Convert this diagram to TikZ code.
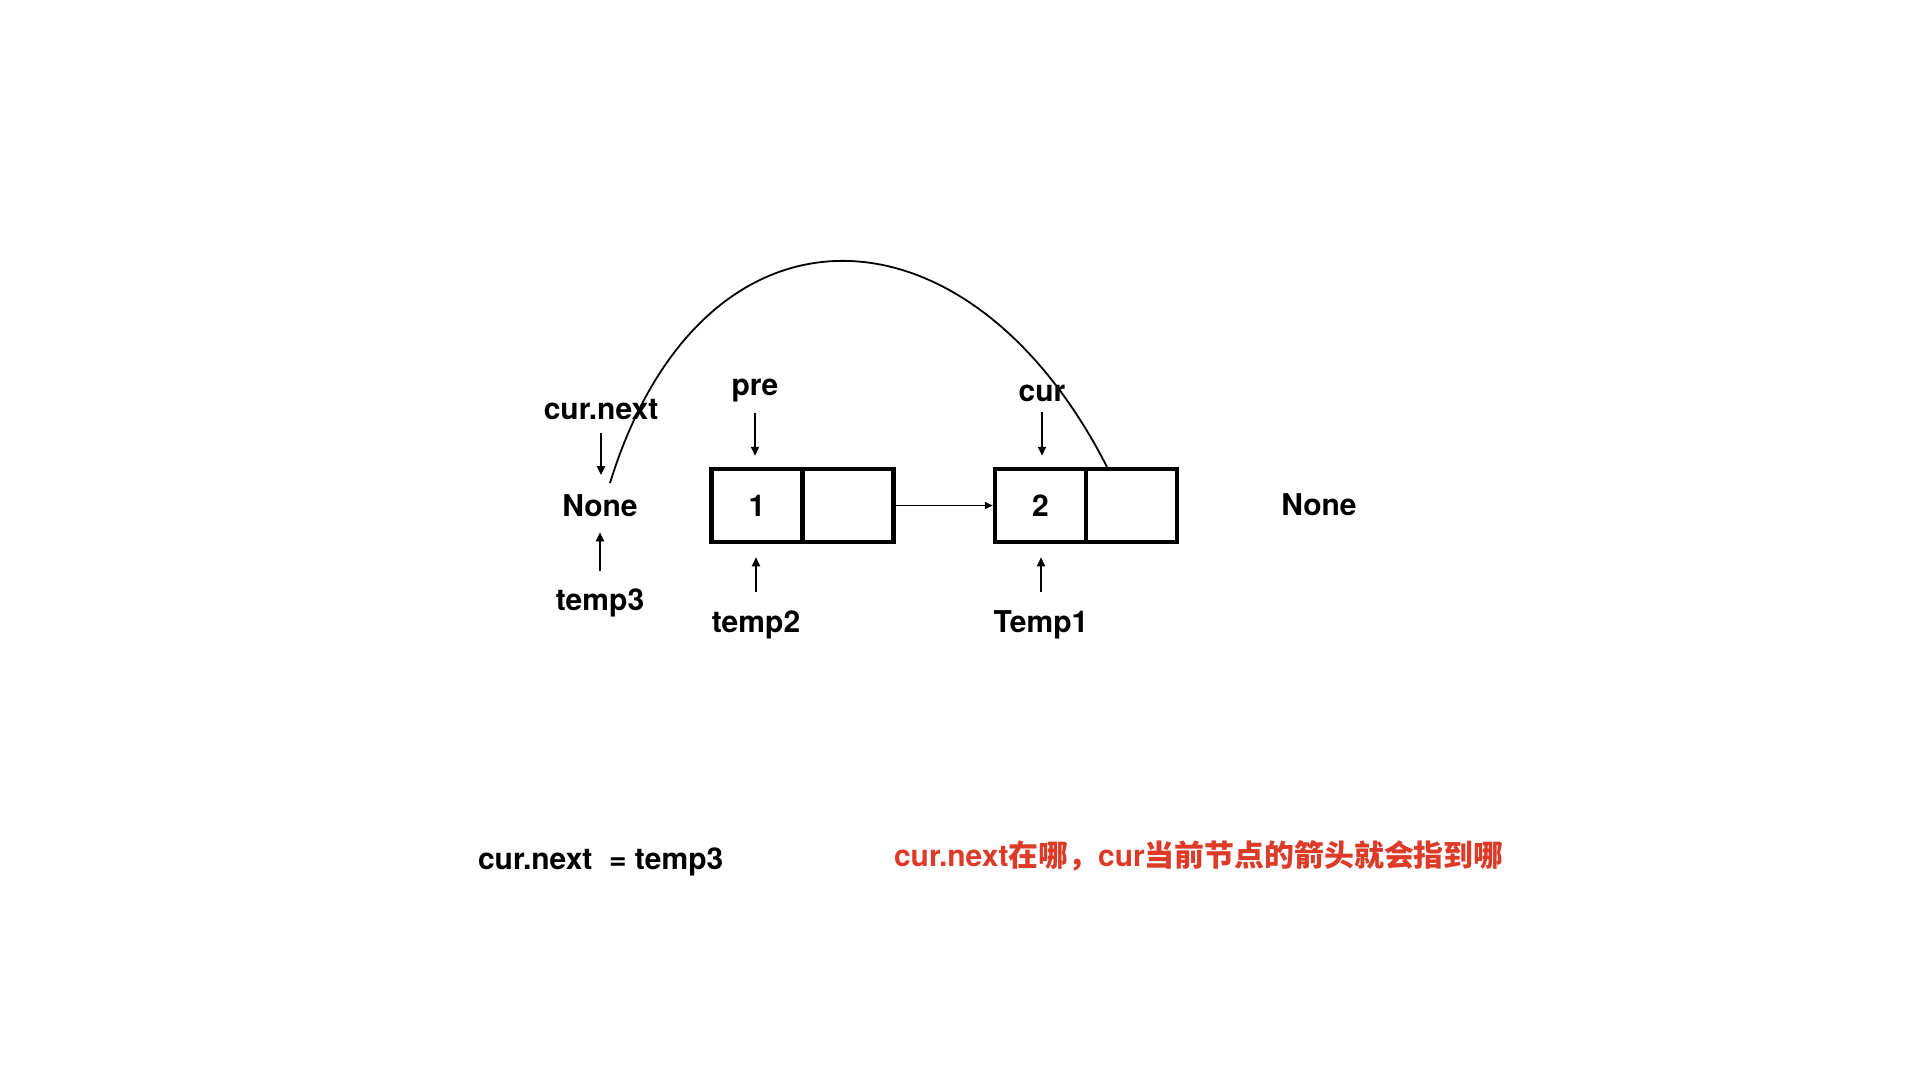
\documentclass[tikz,border=0pt]{standalone}
\usepackage{fontspec}
\setmainfont{TeX Gyre Heros}
\newfontfamily\cjk{Noto Sans CJK SC}
\usetikzlibrary{arrows.meta}
\definecolor{noteRed}{RGB}{221,58,40}
\tikzset{
  lbl/.style={font=\bfseries\fontsize{30}{35}\selectfont, inner sep=0pt, outer sep=0pt, anchor=base},
  cell/.style={draw, line width=4.5pt, minimum width=91pt, minimum height=73pt, inner sep=0pt,
               font=\bfseries\fontsize{30}{35}\selectfont},
  ptr/.style={line width=2pt, -{Triangle[length=9pt,width=8pt]}},
  link/.style={line width=1.6pt, -{Triangle[length=8pt,width=7pt]}},
  swing/.style={line width=1.8pt}
}
\begin{document}
\begin{tikzpicture}[x=1pt,y=-1pt]
\useasboundingbox[fill=white] (0,0) rectangle (1920,1080);
% cells
\node[cell] (n1a) at (757,505.5) {1};
\node[cell] (n1b) at (848,505.5) {};
\node[cell] (n2a) at (1040.5,505.5) {2};
\node[cell] (n2b) at (1131.5,505.5) {};
% labels
\node[lbl] (curnext) at (601,419) {cur.next};
\node[lbl] (noneL) at (600,516) {None};
\node[lbl] (temp3) at (600,610) {temp3};
\node[lbl] (pre) at (755,395) {pre};
\node[lbl] (temp2) at (756,632) {temp2};
\node[lbl] (cur) at (1042,401) {cur};
\node[lbl] (temp1) at (1041,632) {Temp1};
\node[lbl] (noneR) at (1319,515) {None};
% pointer arrows
\draw[ptr, shorten <=14pt, shorten >=19pt] (curnext.south) -- (curnext.south |- noneL.north);
\draw[ptr, shorten <=17pt, shorten >=16pt] (temp3.north) -- (temp3.north |- noneL.south);
\draw[ptr, shorten <=11pt, shorten >=11pt] (pre.south) -- (pre.south |- n1a.north);
\draw[ptr, shorten <=18pt, shorten >=13pt] (temp2.north) -- (temp2.north |- n1a.south);
\draw[ptr, shorten <=11pt, shorten >=11pt] (cur.south) -- (cur.south |- n2a.north);
\draw[ptr, shorten <=18pt, shorten >=13pt] (temp1.north) -- (temp1.north |- n2a.south);
% link
\draw[link] (n1b.east) -- (n2a.west);
% swinging pointer
\coordinate (cstart) at (610,483);
\coordinate (cend) at (1107,467);
\draw[swing] (cstart) .. controls (702,185) and (968,194) .. (cend);
% bottom texts
\node[lbl, anchor=base west] (eq) at (478,869) {cur.next\ \ = temp3};
\node[lbl, anchor=base west, text=noteRed] (note) at (894,866)
  {cur.next{\cjk\bfseries\fontsize{29.9}{36}\selectfont 在哪，}cur{\cjk\bfseries\fontsize{29.9}{36}\selectfont 当前节点的箭头就会指到哪}};
\end{tikzpicture}
\end{document}
